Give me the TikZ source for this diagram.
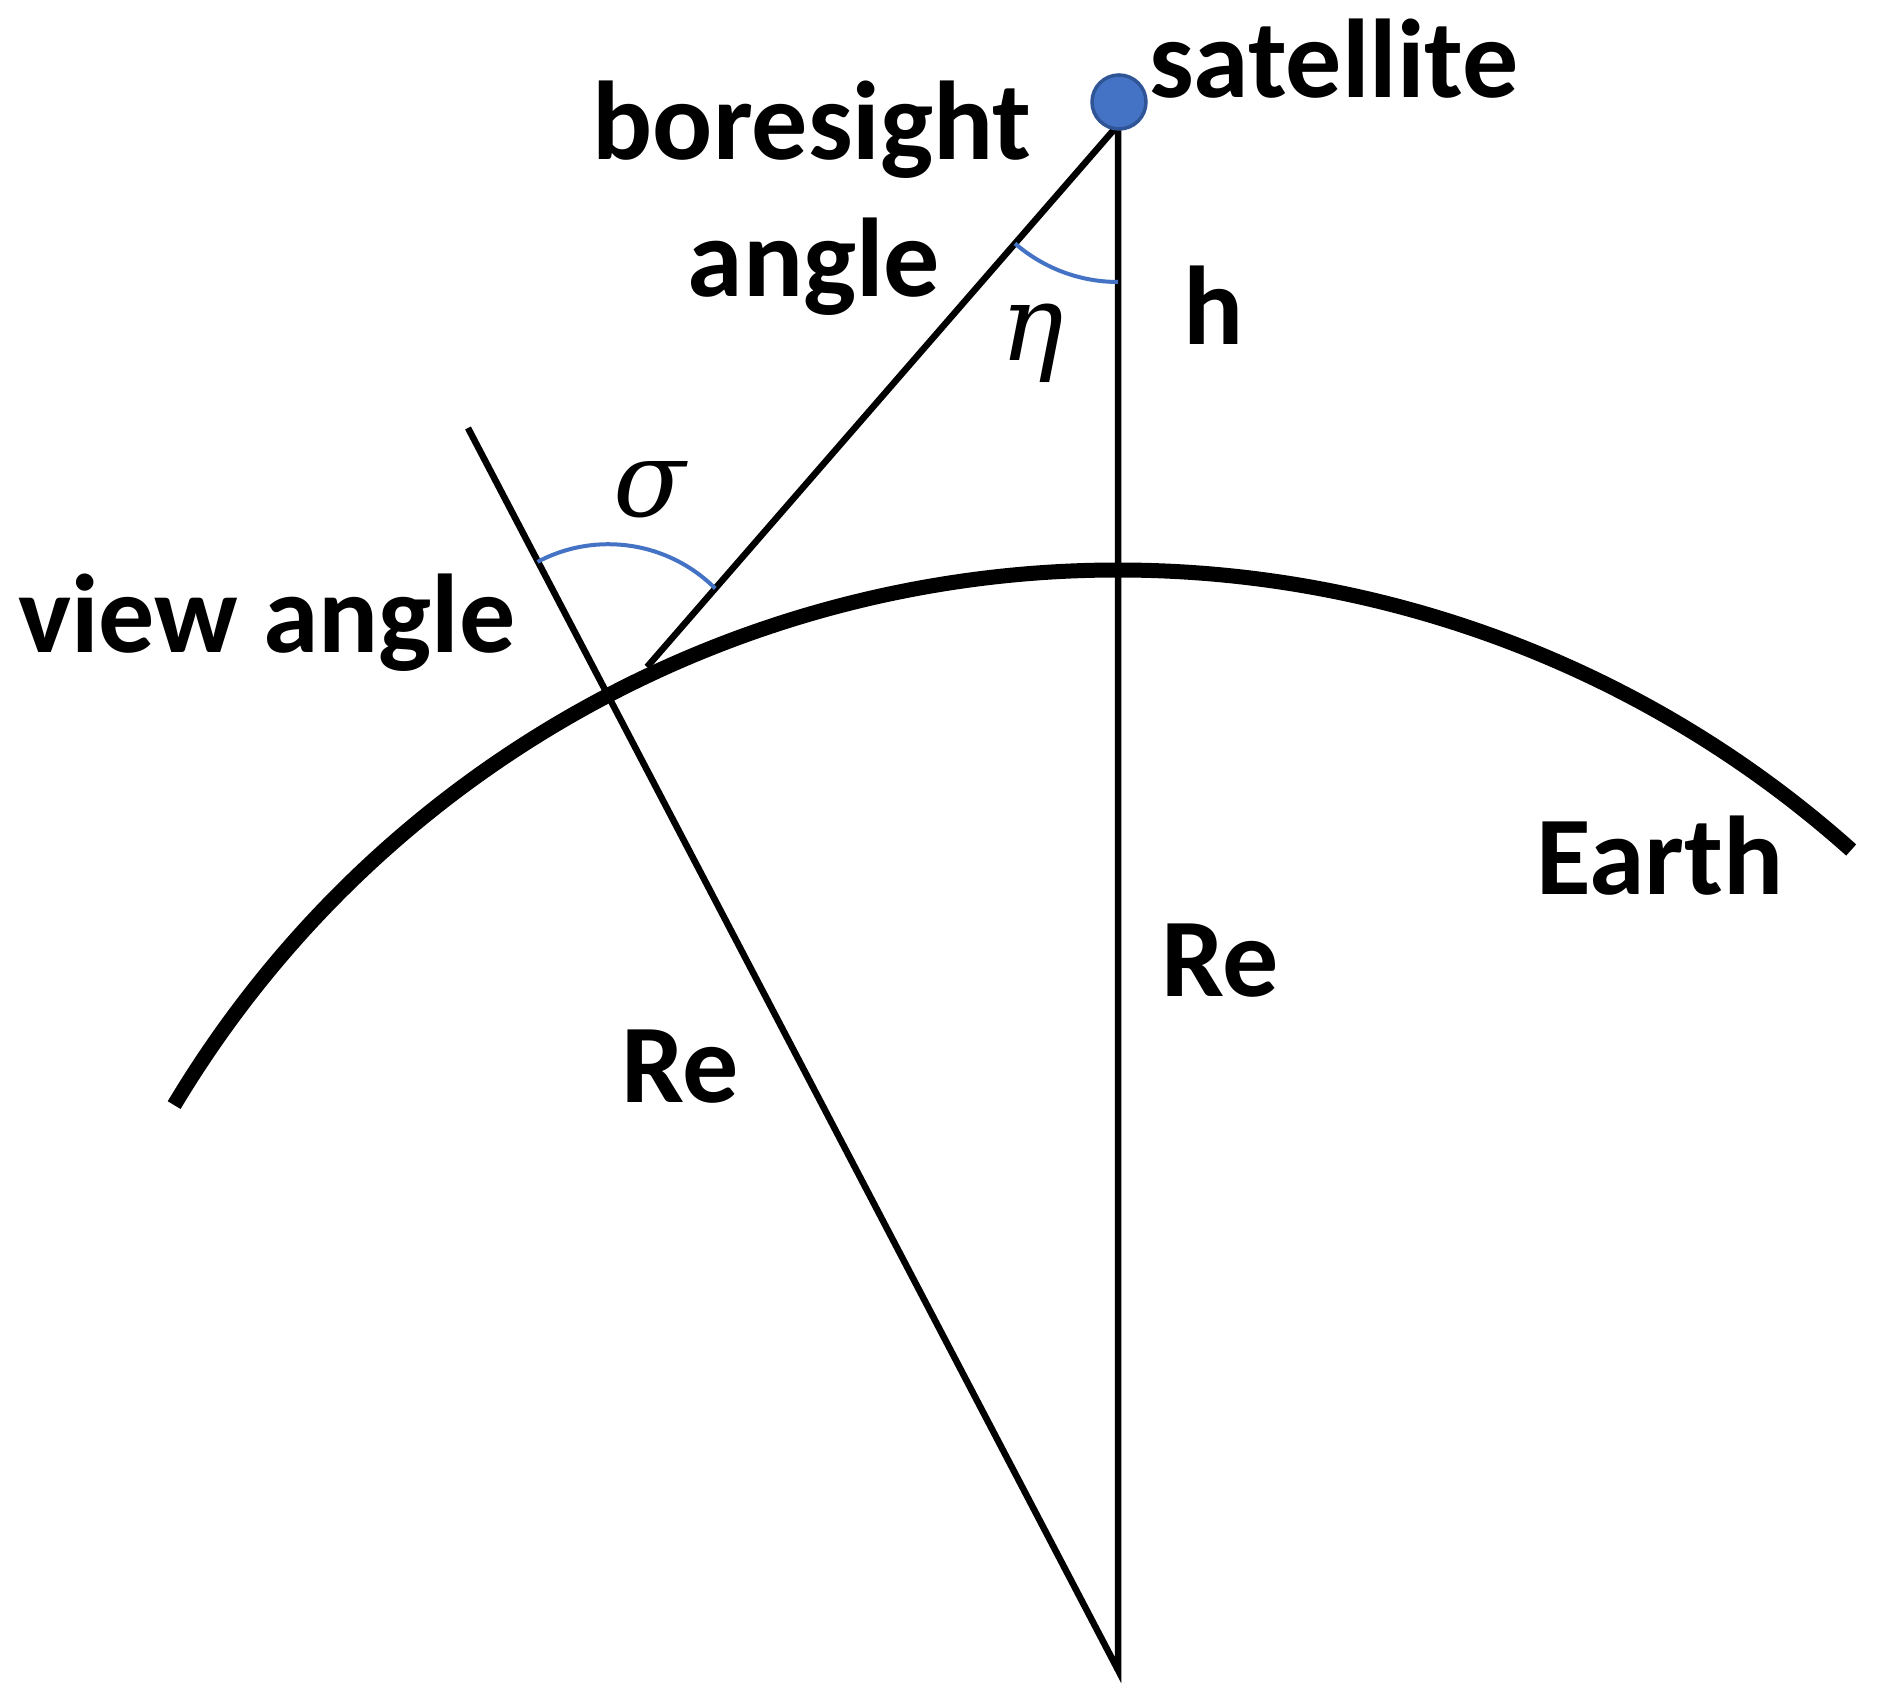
\documentclass[tikz,border=0pt]{standalone}
\usepackage{fontspec}
\setmainfont{Carlito}
\newfontfamily\greekfont{DejaVu Serif}
\definecolor{satblue}{HTML}{4472C4}
\definecolor{satedge}{HTML}{2F5597}
\begin{document}
\begin{tikzpicture}[x=1bp,y=1bp,
  thinline/.style={line width=6.5bp, black},
  earthline/.style={line width=15bp, black},
  anglearc/.style={line width=4bp, satblue},
  lbl/.style={font=\fontsize{112bp}{120bp}\selectfont\bfseries, inner sep=0pt, anchor=base west},
  lblc/.style={lbl, anchor=base},
  greek/.style={font=\fontsize{106bp}{110bp}\greekfont\itshape, inner sep=0pt}]
\useasboundingbox (0,0) rectangle (1881,1700);
\fill[white] (0,0) rectangle (1881,1700);
\coordinate (C) at (1118,30);
\coordinate (A) at (1118,1575);
\coordinate (B) at (647,1033);
\coordinate (T) at (468,1272);
\path (C) ++(117.6:1100) coordinate (P);
\path (C) ++(149.1:1100) coordinate (E1);
% Earth
\draw[earthline] (E1) arc[start angle=149.1, end angle=48.2, radius=1100];
% triangle lines
\draw[thinline] (T) -- (C) -- (A) -- (B);
% angle arcs
\path (A) ++(229:157) coordinate (eta0);
\draw[anglearc] (eta0) arc[start angle=229, end angle=270, radius=157];
\path (P) ++(45:151) coordinate (sig0);
\draw[anglearc] (sig0) arc[start angle=45, end angle=118, radius=151];
% satellite
\node[draw=satedge, fill=satblue, line width=3.5bp, circle, minimum size=54bp, inner sep=0pt] (sat) at (1119,1598) {};
% labels
\node[lbl] (satl) at (1149,1602) {satellite};
\node[lblc] (bore) at (812,1540) {boresight};
\node[lblc] (ang) at (814,1403) {angle};
\node[lbl] (hl) at (1183,1355) {h};
\node[lbl] (view) at (18,1047) {view angle};
\node[lbl] (earth) at (1536,805) {Earth};
\node[lbl] (re1) at (1161,703) {Re};
\node[lbl] (re2) at (621,597) {Re};
\node[greek] (eta) at (1032,1357) {η};
\node[greek] (sigma) at (650,1210) {σ};
\end{tikzpicture}
\end{document}
